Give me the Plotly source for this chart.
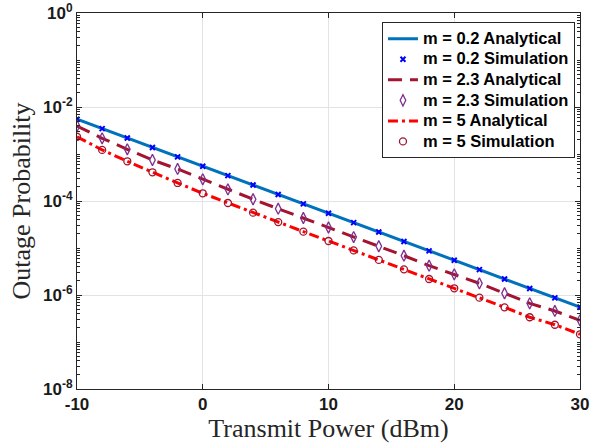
import plotly.graph_objects as go

power_dbm = [-10, -8, -6, -4, -2, 0, 2, 4, 6, 8, 10, 12, 14, 16, 18, 20, 22, 24, 26, 28, 30]

m02_analytical = [5.5e-3, 3.47e-3, 2.19e-3, 1.38e-3, 8.7e-4, 5.5e-4, 3.47e-4, 2.19e-4, 1.38e-4, 8.7e-5,
                  5.5e-5, 3.47e-5, 2.19e-5, 1.38e-5, 8.7e-6, 5.5e-6, 3.47e-6, 2.19e-6, 1.38e-6, 8.7e-7, 5.5e-7]
m02_simulation = [5.5e-3, 3.47e-3, 2.19e-3, 1.38e-3, 8.7e-4, 5.5e-4, 3.47e-4, 2.19e-4, 1.38e-4, 8.7e-5,
                  5.5e-5, 3.47e-5, 2.19e-5, 1.38e-5, 8.7e-6, 5.5e-6, 3.47e-6, 2.19e-6, 1.38e-6, 8.7e-7, 5.5e-7]

m23_analytical = [3.94e-3, 2.16e-3, 1.26e-3, 7.45e-4, 4.80e-4, 2.90e-4, 1.77e-4, 1.09e-4, 6.85e-5, 4.35e-5,
                  2.73e-5, 1.71e-5, 1.09e-5, 6.85e-6, 4.20e-6, 2.75e-6, 1.77e-6, 1.09e-6, 6.65e-7, 4.57e-7, 2.90e-7]
m23_simulation = [3.94e-3, 2.16e-3, 1.26e-3, 7.45e-4, 4.80e-4, 2.90e-4, 1.77e-4, 1.09e-4, 6.85e-5, 4.35e-5,
                  2.73e-5, 1.71e-5, 1.09e-5, 6.85e-6, 4.20e-6, 2.75e-6, 1.77e-6, 1.09e-6, 6.65e-7, 4.57e-7, 2.90e-7]

m5_analytical = [2.33e-3, 1.22e-3, 7.0e-4, 4.08e-4, 2.42e-4, 1.46e-4, 9.06e-5, 5.64e-5, 3.56e-5, 2.23e-5,
                 1.41e-5, 8.9e-6, 5.58e-6, 3.52e-6, 2.19e-6, 1.39e-6, 8.77e-7, 5.47e-7, 3.36e-7, 2.33e-7, 1.46e-7]
m5_simulation = [2.33e-3, 1.22e-3, 7.0e-4, 4.08e-4, 2.42e-4, 1.46e-4, 9.06e-5, 5.64e-5, 3.56e-5, 2.23e-5,
                 1.41e-5, 8.9e-6, 5.58e-6, 3.52e-6, 2.19e-6, 1.39e-6, 8.77e-7, 5.47e-7, 3.36e-7, 2.33e-7, 1.46e-7]

series_names = ["m = 0.2 Analytical", "m = 0.2 Simulation", "m = 2.3 Analytical",
                "m = 2.3 Simulation", "m = 5 Analytical", "m = 5 Simulation"]

x_ticks = [-10, 0, 10, 20, 30]
y_tick_vals = [1e-8, 1e-6, 1e-4, 1e-2, 1e0]
y_tick_text = ["10<sup>-8</sup>", "10<sup>-6</sup>", "10<sup>-4</sup>", "10<sup>-2</sup>", "10<sup>0</sup>"]
y_minor_vals = [k * 10.0 ** e for e in range(-8, 0) for k in range(1, 10)]


def legend_label(text):
    return '<span style="font-size:16.5px">' + text + '</span>'


fig = go.Figure()
fig.add_trace(go.Scatter(x=power_dbm, y=m02_analytical, mode="lines", name=legend_label(series_names[0]),
                         line=dict(color="#0072BD", width=3)))
fig.add_trace(go.Scatter(x=power_dbm, y=m02_simulation, mode="markers", name=legend_label(series_names[1]),
                         marker=dict(symbol="x-thin-open", size=5, color="#0000FF",
                                     line=dict(color="#0000FF", width=2))))
fig.add_trace(go.Scatter(x=power_dbm, y=m23_analytical, mode="lines", name=legend_label(series_names[2]),
                         line=dict(color="#A2142F", width=3, dash="14px,8px")))
fig.add_trace(go.Scatter(x=power_dbm, y=m23_simulation, mode="markers", name=legend_label(series_names[3]),
                         marker=dict(symbol="diamond-tall-open", size=8, color="#7E2F8E",
                                     line=dict(color="#7E2F8E", width=1.3))))
fig.add_trace(go.Scatter(x=power_dbm, y=m5_analytical, mode="lines", name=legend_label(series_names[4]),
                         line=dict(color="#FF0000", width=3, dash="10px,4px,3px,4px")))
fig.add_trace(go.Scatter(x=power_dbm, y=m5_simulation, mode="markers", name=legend_label(series_names[5]),
                         marker=dict(symbol="circle-open", size=7, color="#A2142F",
                                     line=dict(color="#A2142F", width=1.3))))

axis_common = dict(
    showline=True, linecolor="#262626", linewidth=1, mirror="ticks",
    ticks="inside", tickcolor="#262626", ticklen=5,
    showgrid=True, gridcolor="#e3e3e3", gridwidth=1, zeroline=False,
    automargin=False,
    tickfont=dict(family="Liberation Sans", size=17, color="#1a1a1a", weight="bold"),
)

fig.update_xaxes(range=[-10, 30], tickmode="array", tickvals=x_ticks, ticktext=[str(v) for v in x_ticks],
                 title=dict(text="Transmit Power (dBm)", font=dict(family="Liberation Serif", size=26, color="#262626"),
                            standoff=0),
                 **axis_common)
fig.update_yaxes(type="log", range=[-8, 0], tickmode="array", tickvals=y_tick_vals, ticktext=y_tick_text,
                 minor=dict(ticks="inside", ticklen=3, tickcolor="#262626", tickmode="array",
                            tickvals=y_minor_vals, showgrid=False),
                 title=dict(text="Outage Probability", font=dict(family="Liberation Serif", size=26, color="#262626"),
                            standoff=4),
                 **axis_common)

fig.update_layout(
    width=591, height=447,
    margin=dict(l=77, r=11, t=13, b=58),
    paper_bgcolor="white", plot_bgcolor="white",
    showlegend=True,
    legend=dict(x=0.99, y=0.975, xanchor="right", yanchor="top",
                bgcolor="white", bordercolor="#262626", borderwidth=1,
                font=dict(family="Liberation Sans", size=13.5, color="black", weight="bold"),
                itemwidth=30, tracegroupgap=0),
)

fig.write_html("out.html", config={"displayModeBar": False},
               post_script="document.body.style.margin='0';")
